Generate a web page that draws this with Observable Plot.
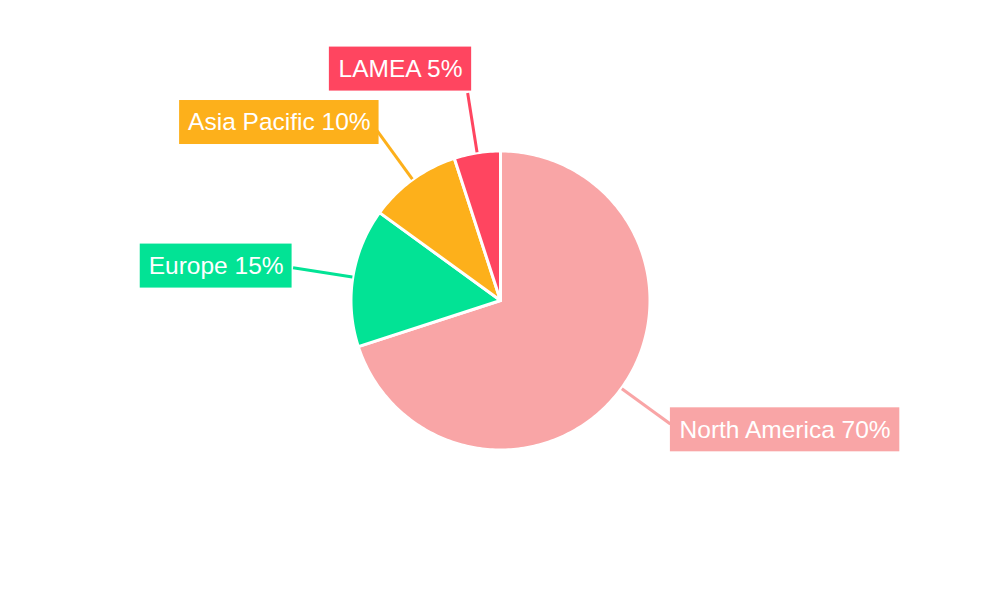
<!DOCTYPE html>
<html>
<head>
<meta charset="utf-8">
<script src="https://cdn.jsdelivr.net/npm/d3@7"></script>
<script src="https://cdn.jsdelivr.net/npm/@observablehq/plot@0.6"></script>
<style>
  html, body { margin: 0; padding: 0; background: #ffffff; }
  #chart { width: 1000px; height: 600px; }
</style>
</head>
<body>
<div id="chart"></div>
<script>
// ---- data ----
const regions = ["North America", "Europe", "Asia Pacific", "LAMEA"];
const shares = [70, 15, 10, 5];
const colors = ["#F9A5A6", "#02E395", "#FDB01B", "#FF4560"];

// ---- geometry helpers (derived from the data) ----
const R = 149.5;         // pie radius in data units (1 unit = 1px)
const LEAD_IN = 150;     // leader line start radius
const LEAD_OUT = 210;    // leader line end radius
const FS = 24.5;
const FONT = `${FS}px 'Liberation Sans', Arial, sans-serif`;
const PAD = 8.5, BOX_H = 44;

const data = regions.map((r, i) => ({region: r, value: shares[i], color: colors[i]}));
const arcs = d3.pie().sort(null).value(d => d.value)(data);

// slice polygons: center -> arc -> center
const slicePts = [];
arcs.forEach(a => {
  const n = Math.max(2, Math.ceil((a.endAngle - a.startAngle) / (Math.PI / 180)));
  slicePts.push({region: a.data.region, x: 0, y: 0});
  for (let k = 0; k <= n; k++) {
    const t = a.startAngle + (a.endAngle - a.startAngle) * k / n;
    slicePts.push({region: a.data.region, x: R * Math.sin(t), y: R * Math.cos(t)});
  }
  slicePts.push({region: a.data.region, x: 0, y: 0});
});

// measure label text
const ctx = document.createElement("canvas").getContext("2d");
ctx.font = FONT;

const labels = arcs.map(a => {
  const m = (a.startAngle + a.endAngle) / 2;
  const s = Math.sin(m), c = Math.cos(m);
  const text = `${a.data.region} ${a.data.value}%`;
  const w = ctx.measureText(text).width + 2 * PAD;
  const ax = LEAD_OUT * s, ay = LEAD_OUT * c;
  let x1, x2, y1, y2;
  if (Math.abs(c) > 0.95) {
    // near the top/bottom: box sits above/below the line end
    if (s < 0) { x2 = ax + 4; x1 = x2 - w; } else { x1 = ax - 4; x2 = x1 + w; }
    if (c > 0) { y1 = ay + 2; y2 = y1 + BOX_H; } else { y2 = ay - 2; y1 = y2 - BOX_H; }
  } else {
    if (s < 0) { x2 = ax + (c > 0.5 ? 2 : -1); x1 = x2 - w; } else { x1 = ax; x2 = x1 + w; }
    const cy = ay + 10 * c;
    y1 = cy - BOX_H / 2; y2 = y1 + BOX_H;
  }
  return {
    region: a.data.region, text,
    lx1: LEAD_IN * s, ly1: LEAD_IN * c, lx2: ax, ly2: ay,
    x1, x2, y1, y2, cx: (x1 + x2) / 2, cy: (y1 + y2) / 2
  };
});

const chart = Plot.plot({
  width: 1000,
  height: 600,
  margin: 0,
  style: {background: "#ffffff", fontFamily: "'Liberation Sans', Arial, sans-serif"},
  x: {domain: [-500, 500], axis: null},
  y: {domain: [-300, 300], axis: null},
  color: {domain: regions, range: colors},
  marks: [
    Plot.line(slicePts, {
      x: "x", y: "y", z: "region", fill: "region",
      stroke: "#ffffff", strokeWidth: 3, strokeLinejoin: "round", curve: "linear"
    }),
    Plot.link(labels, {
      x1: "lx1", y1: "ly1", x2: "lx2", y2: "ly2",
      stroke: "region", strokeWidth: 3
    }),
    Plot.rect(labels, {
      x1: "x1", x2: "x2", y1: "y1", y2: "y2", fill: "region"
    }),
    Plot.text(labels, {
      x: "cx", y: "cy", text: "text", fill: "#ffffff",
      fontSize: FS, textAnchor: "middle", lineAnchor: "middle"
    })
  ]
});

document.getElementById("chart").appendChild(chart);
</script>
</body>
</html>
